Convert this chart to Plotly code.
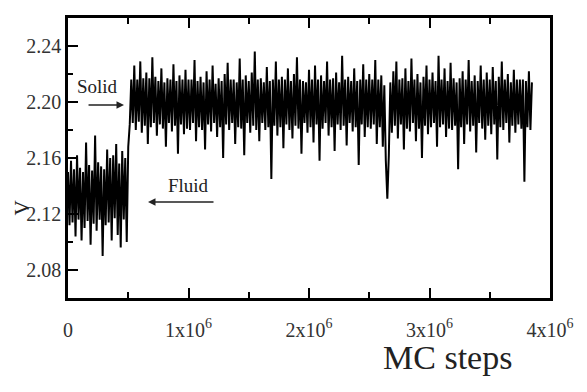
import plotly.graph_objects as go

# Sampling interval of the recorded volume (MC steps)
step = 12500

# Fluid branch, 0 .. 0.5x10^6 MC steps
fluid_v = [2.150, 2.112, 2.158, 2.114, 2.152, 2.104, 2.162, 2.116, 2.153, 2.101,
           2.150, 2.110, 2.171, 2.115, 2.155, 2.098, 2.151, 2.113, 2.176, 2.108,
           2.157, 2.116, 2.154, 2.090, 2.152, 2.112, 2.166, 2.114, 2.160, 2.101,
           2.162, 2.117, 2.170, 2.105, 2.156, 2.096, 2.165, 2.116, 2.160, 2.100,
           2.168]

# Solid branch, from 0.5125x10^6 MC steps onwards
solid_v = [2.184, 2.216, 2.185, 2.226, 2.180, 2.216, 2.186, 2.229, 2.178, 2.217,
           2.183, 2.221, 2.170, 2.217, 2.182, 2.232, 2.185, 2.218, 2.176, 2.215,
           2.184, 2.224, 2.181, 2.214, 2.168, 2.217, 2.185, 2.216, 2.179, 2.227,
           2.183, 2.215, 2.163, 2.219, 2.184, 2.216, 2.177, 2.223, 2.181, 2.216,
           2.180, 2.216, 2.185, 2.230, 2.172, 2.215, 2.182, 2.218, 2.180, 2.214,
           2.166, 2.222, 2.184, 2.216, 2.179, 2.226, 2.185, 2.213, 2.175, 2.217,
           2.182, 2.215, 2.160, 2.220, 2.184, 2.228, 2.180, 2.216, 2.185, 2.216,
           2.170, 2.214, 2.182, 2.231, 2.181, 2.216, 2.162, 2.219, 2.185, 2.215,
           2.178, 2.221, 2.183, 2.236, 2.180, 2.216, 2.172, 2.217, 2.185, 2.214,
           2.180, 2.225, 2.182, 2.215, 2.145, 2.216, 2.183, 2.229, 2.176, 2.216,
           2.182, 2.218, 2.167, 2.216, 2.184, 2.224, 2.180, 2.215, 2.174, 2.220,
           2.183, 2.232, 2.181, 2.216, 2.163, 2.215, 2.185, 2.214, 2.178, 2.223,
           2.182, 2.216, 2.171, 2.226, 2.184, 2.216, 2.158, 2.219, 2.181, 2.215,
           2.185, 2.229, 2.176, 2.216, 2.182, 2.217, 2.165, 2.221, 2.184, 2.214,
           2.180, 2.233, 2.183, 2.216, 2.169, 2.218, 2.185, 2.215, 2.179, 2.224,
           2.182, 2.215, 2.155, 2.216, 2.184, 2.227, 2.175, 2.216, 2.182, 2.220,
           2.181, 2.216, 2.184, 2.230, 2.170, 2.216, 2.182, 2.219, 2.168, 2.212,
           2.158, 2.131, 2.162, 2.214, 2.178, 2.222, 2.183, 2.229, 2.174, 2.216,
           2.184, 2.217, 2.166, 2.224, 2.181, 2.215, 2.179, 2.231, 2.185, 2.216,
           2.172, 2.220, 2.181, 2.214, 2.160, 2.218, 2.183, 2.226, 2.177, 2.216,
           2.182, 2.221, 2.185, 2.215, 2.168, 2.233, 2.182, 2.216, 2.184, 2.224,
           2.175, 2.215, 2.181, 2.228, 2.180, 2.217, 2.183, 2.214, 2.152, 2.217,
           2.182, 2.222, 2.170, 2.216, 2.184, 2.230, 2.179, 2.215, 2.183, 2.219,
           2.164, 2.215, 2.185, 2.226, 2.181, 2.216, 2.173, 2.221, 2.183, 2.216,
           2.177, 2.225, 2.184, 2.215, 2.159, 2.218, 2.182, 2.229, 2.180, 2.216,
           2.185, 2.220, 2.171, 2.214, 2.183, 2.223, 2.178, 2.216, 2.184, 2.216,
           2.181, 2.216, 2.143, 2.215, 2.182, 2.222, 2.180, 2.214]

x_tickvals = [0, 1e6, 2e6, 3e6, 4e6]
x_ticktext = ["0", "1x10<sup>6</sup>", "2x10<sup>6</sup>", "3x10<sup>6</sup>", "4x10<sup>6</sup>"]
y_tickvals = [2.08, 2.12, 2.16, 2.20, 2.24]
y_ticktext = ["2.08", "2.12", "2.16", "2.20", "2.24"]

v = fluid_v + solid_v
mc = [i * step for i in range(len(v))]

serif = "Liberation Serif, Times New Roman, serif"
txt = "#222"

fig = go.Figure()
fig.add_trace(go.Scatter(x=mc, y=v, mode="lines",
                         line=dict(color="black", width=2.0), showlegend=False,
                         hoverinfo="skip"))

# The page body adds an 8 px margin, so the figure is 8 px smaller and margins shifted
fig.update_layout(
    width=579, height=384,
    margin=dict(l=60, r=37, t=7, b=94),
    paper_bgcolor="white", plot_bgcolor="white",
    font=dict(family=serif, color=txt),
    xaxis=dict(range=[0, 4e6], tickvals=x_tickvals, ticktext=x_ticktext,
               ticks="inside", ticklen=10, tickwidth=2, tickcolor="black",
               minor=dict(tickvals=[0.5e6, 1.5e6, 2.5e6, 3.5e6], ticks="inside",
                          ticklen=6, tickwidth=2, tickcolor="black"),
               showline=True, linewidth=2.5, linecolor="black", mirror="ticks",
               showgrid=False, zeroline=False, ticklabelstandoff=12,
               tickfont=dict(size=20, color="#333")),
    yaxis=dict(range=[2.06, 2.26], tickvals=y_tickvals, ticktext=y_ticktext,
               ticks="inside", ticklen=10, tickwidth=2, tickcolor="black",
               minor=dict(tickvals=[2.10, 2.14, 2.18, 2.22], ticks="inside",
                          ticklen=5, tickwidth=2, tickcolor="black"),
               showline=True, linewidth=2.5, linecolor="black", mirror=True,
               showgrid=False, zeroline=False, tickfont=dict(size=20, color="#333")),
)

# Axis titles
fig.add_annotation(text="MC steps", xref="paper", yref="paper", x=0.788, y=-0.212,
                   xanchor="center", yanchor="middle",
                   showarrow=False, font=dict(size=34, color=txt, family=serif))
fig.add_annotation(text="V", xref="paper", yref="paper", x=-0.095, y=0.32,
                   xanchor="center", yanchor="middle",
                   textangle=-90, showarrow=False, font=dict(size=21, color=txt, family=serif))

# Phase labels with arrows
fig.add_annotation(text="Solid", x=0.241e6, y=2.2112, showarrow=False,
                   xanchor="center", yanchor="middle",
                   font=dict(size=19, color=txt, family=serif))
fig.add_annotation(text="", x=0.465e6, y=2.1978, ax=-37, ay=0, showarrow=True,
                   arrowhead=2, arrowsize=1, arrowwidth=1.5, arrowcolor=txt)
fig.add_annotation(text="Fluid", x=1.004e6, y=2.1406, showarrow=False,
                   xanchor="center", yanchor="middle",
                   font=dict(size=19, color=txt, family=serif))
fig.add_annotation(text="", x=0.664e6, y=2.1286, ax=67, ay=0, showarrow=True,
                   arrowhead=2, arrowsize=1, arrowwidth=1.5, arrowcolor=txt)

fig.write_html("out.html")
